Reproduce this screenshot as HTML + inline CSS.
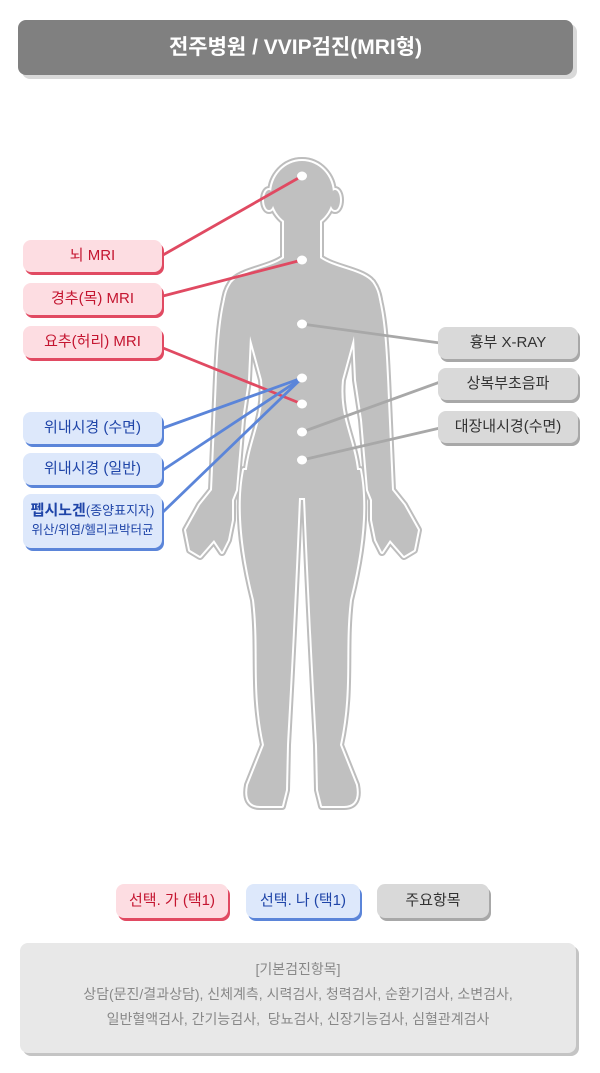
<!DOCTYPE html>
<html><head><meta charset="utf-8">
<style>
*{margin:0;padding:0;box-sizing:border-box}
body{width:600px;height:1073px;background:#fff;position:relative;overflow:hidden;font-family:"Liberation Sans","Noto Sans CJK KR",sans-serif}
.hdr{position:absolute;left:18px;top:20px;width:555px;height:55px;background:#808080;border-radius:8px;box-shadow:4px 4px 0 #d9d9d9;color:#fff;font-size:21px;font-weight:bold;text-align:center;line-height:55px}
.b{position:absolute;border-radius:8px;text-align:center;font-size:15px;height:32px;line-height:32px}
.r{background:#fddde2;color:#c41530;box-shadow:2px 3px 0 #e14a62}
.u{background:#dde8fb;color:#1f45a8;box-shadow:2px 3px 0 #5b85d9}
.g{background:#d9d9d9;color:#333;box-shadow:2px 3px 0 #a8a8a8}
.foot{position:absolute;left:20px;top:943px;width:556px;height:110px;background:#e8e8e8;border-radius:8px;box-shadow:3px 3px 0 #c4c4c4;color:#888;font-size:14px;text-align:center;line-height:25px;padding-top:14px}
svg{position:absolute;left:0;top:0}
</style></head><body>
<div class="hdr">전주병원 / VVIP검진(MRI형)</div>

<svg width="600" height="1073" viewBox="0 0 600 1073">
<defs>
<g id="body">
<ellipse cx="302" cy="194" rx="31" ry="33"/>
<ellipse cx="269" cy="200" rx="5" ry="10"/>
<ellipse cx="335" cy="200" rx="5" ry="10"/>
<rect x="284" y="215" width="36" height="50"/>
<path d="M284,258 C270,268 245,270 234,280 C224,290 224,305 224,320 L250,336 L262,380 C266,420 248,440 246,480 L358,480 C356,440 338,420 342,380 L354,336 L380,320 C380,305 380,290 370,280 C359,270 334,268 320,258 Z"/>
<path d="M232,282 C220,300 218,350 216,400 L212,490 L200,505 L186,530 L190,550 L200,556 L214,540 L222,552 L228,540 L232,520 L232,500 L236,490 L242,420 L248,380 L250,336 Z"/>
<path d="M372,282 C384,300 386,350 388,400 L392,490 L404,505 L418,530 L414,550 L404,556 L390,540 L382,552 L376,540 L372,520 L372,500 L368,490 L362,420 L356,380 L354,336 Z"/>
<path d="M244,470 C236,510 244,560 254,600 C260,650 252,690 264,745 L248,785 Q244,806 260,806 L282,806 L286,790 L287,745 C290,690 294,620 299,498 L305,498 C310,620 314,690 317,745 L318,790 L322,806 L344,806 Q360,806 356,785 L340,745 C352,690 344,650 350,600 C360,560 368,510 360,470 Z"/>
</g>
</defs>
<use href="#body" fill="#bdbdbd" stroke="#bdbdbd" stroke-width="8" stroke-linejoin="round"/>
<use href="#body" fill="#bdbdbd" stroke="#fff" stroke-width="4" stroke-linejoin="round"/>
<use href="#body" fill="#c0c0c0" stroke="none"/>
<g stroke-width="2.8" fill="none">
<line x1="302" y1="176" x2="163" y2="255" stroke="#e04a62"/>
<line x1="302" y1="260" x2="163" y2="296" stroke="#e04a62"/>
<line x1="163" y1="348" x2="302" y2="404" stroke="#e04a62"/>
<line x1="302" y1="378" x2="163" y2="428" stroke="#5b85d9"/>
<line x1="302" y1="378" x2="163" y2="470" stroke="#5b85d9"/>
<line x1="302" y1="378" x2="163" y2="512" stroke="#5b85d9"/>
<line x1="302" y1="324" x2="440" y2="343" stroke="#a8a8a8"/>
<line x1="302" y1="432" x2="440" y2="382" stroke="#a8a8a8"/>
<line x1="302" y1="460" x2="440" y2="428" stroke="#a8a8a8"/>
</g>
<g fill="#fff">
<ellipse cx="302" cy="176" rx="5" ry="4.5"/><ellipse cx="302" cy="260" rx="5" ry="4.5"/>
<ellipse cx="302" cy="324" rx="5" ry="4.5"/><ellipse cx="302" cy="378" rx="5" ry="4.5"/>
<ellipse cx="302" cy="404" rx="5" ry="4.5"/><ellipse cx="302" cy="432" rx="5" ry="4.5"/>
<ellipse cx="302" cy="460" rx="5" ry="4.5"/>
</g>
</svg>

<div class="b r" style="left:23px;top:240px;width:139px">뇌 MRI</div>
<div class="b r" style="left:23px;top:283px;width:139px">경추(목) MRI</div>
<div class="b r" style="left:23px;top:326px;width:139px">요추(허리) MRI</div>
<div class="b u" style="left:23px;top:412px;width:139px">위내시경 (수면)</div>
<div class="b u" style="left:23px;top:453px;width:139px">위내시경 (일반)</div>
<div class="b u" style="left:23px;top:494px;width:139px;height:54px;line-height:19px;padding-top:7px"><span style="font-size:15px;font-weight:bold">펩시노겐</span><span style="font-size:13px">(종양표지자)</span><br><span style="font-size:12.5px">위산/위염/헬리코박터균</span></div>
<div class="b g" style="left:438px;top:327px;width:140px">흉부 X-RAY</div>
<div class="b g" style="left:438px;top:368px;width:140px">상복부초음파</div>
<div class="b g" style="left:438px;top:411px;width:140px">대장내시경(수면)</div>

<div class="b r" style="left:116px;top:884px;width:112px;height:34px;line-height:34px;font-size:15px">선택. 가 (택1)</div>
<div class="b u" style="left:246px;top:884px;width:114px;height:34px;line-height:34px;font-size:15px">선택. 나 (택1)</div>
<div class="b g" style="left:377px;top:884px;width:112px;height:34px;line-height:34px;font-size:15px">주요항목</div>

<div class="foot">[기본검진항목]<br>상담(문진/결과상담), 신체계측, 시력검사, 청력검사, 순환기검사, 소변검사,<br>일반혈액검사, 간기능검사,&nbsp; 당뇨검사, 신장기능검사, 심혈관계검사</div>
</body></html>
